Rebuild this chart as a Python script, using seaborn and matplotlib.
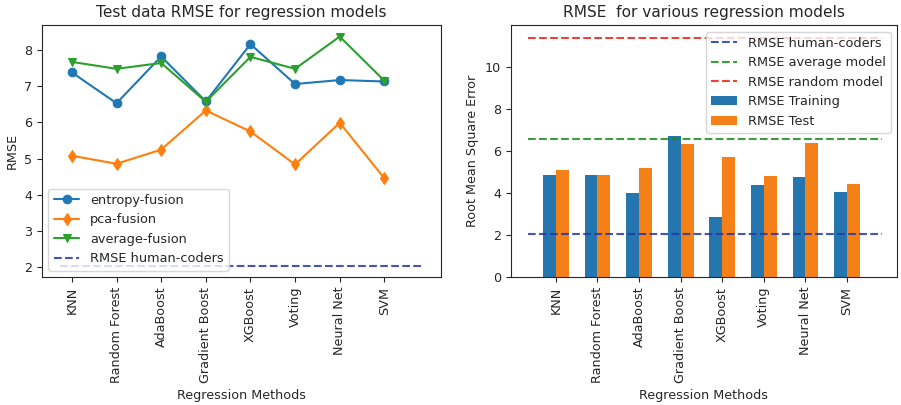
import matplotlib
matplotlib.use("Agg")
import matplotlib.pyplot as plt
import seaborn as sns
import pandas as pd

methods = ["KNN", "Random Forest", "AdaBoost", "Gradient Boost",
           "XGBoost", "Voting", "Neural Net", "SVM"]

# test RMSE per fusion strategy
entropy_fusion = [7.38, 6.53, 7.82, 6.58, 8.16, 7.06, 7.17, 7.13]
pca_fusion = [5.08, 4.86, 5.25, 6.33, 5.75, 4.84, 5.99, 4.46]
average_fusion = [7.67, 7.48, 7.64, 6.57, 7.81, 7.48, 8.37, 7.15]

# training / test RMSE per model
rmse_training = [4.86, 4.86, 4.01, 6.71, 2.83, 4.35, 4.77, 4.06]
rmse_test = [5.10, 4.86, 5.20, 6.33, 5.72, 4.82, 6.38, 4.44]

# reference baselines
rmse_human = 2.05
rmse_average_model = 6.56
rmse_random_model = 11.38

sns.set_style("ticks")
plt.rcParams["font.family"] = ["DejaVu Sans"]
plt.rcParams["font.size"] = 9.2
plt.rcParams["xtick.labelsize"] = 9.2
plt.rcParams["ytick.labelsize"] = 9.2
plt.rcParams["axes.labelsize"] = 9.2
plt.rcParams["axes.titlesize"] = 11.1
plt.rcParams["legend.fontsize"] = 9.3

fig = plt.figure(figsize=(9.01, 4.05), dpi=100)
ax1 = fig.add_axes([0.0466, 0.316, 0.4429, 0.622])
ax2 = fig.add_axes([0.567, 0.316, 0.4286, 0.622])

tab = sns.color_palette("tab10")
human_color = "#2536a8"

# left: line chart of fusion strategies
series = [("entropy-fusion", entropy_fusion, "o", tab[0]),
          ("pca-fusion", pca_fusion, "d", tab[1]),
          ("average-fusion", average_fusion, "v", tab[2])]
for name, vals, mk, col in series:
    sns.lineplot(x=methods, y=vals, marker=mk, color=col, label=name,
                 markersize=6.2, markeredgecolor=col, linewidth=1.5,
                 sort=False, ax=ax1)
ax1.hlines(rmse_human, -0.26, 7.85, colors=human_color, linestyles="--",
           linewidth=1.5, alpha=0.85, label="RMSE human-coders")
ax1.set_xlim(-0.67, 8.27)
ax1.set_title("Test data RMSE for regression models")
ax1.set_ylabel("RMSE")
ax1.set_xlabel("Regression Methods")
ax1.tick_params(axis="x", labelrotation=90)
ax1.legend(loc="lower left")

# right: grouped bars with baselines
df = pd.DataFrame({
    "method": methods * 2,
    "rmse": rmse_training + rmse_test,
    "kind": ["RMSE Training"] * len(methods) + ["RMSE Test"] * len(methods),
})
sns.barplot(data=df, x="method", y="rmse", hue="kind",
            palette=[tab[0], tab[1]], width=0.62, saturation=0.92,
            linewidth=0, edgecolor="none", ax=ax2)
ax2.hlines(rmse_human, -0.66, 7.84, colors=human_color, linestyles="--",
           linewidth=1.5, alpha=0.85, label="RMSE human-coders")
ax2.hlines(rmse_average_model, -0.66, 7.84, colors="#1a8c1a", linestyles="--",
           linewidth=1.5, alpha=0.85, label="RMSE average model")
ax2.hlines(rmse_random_model, -0.66, 7.84, colors="#e62214", linestyles="--",
           linewidth=1.5, alpha=0.85, label="RMSE random model")
ax2.set_xlim(-1.08, 8.2)
ax2.set_ylim(0, 11.97)
ax2.set_title("RMSE  for various regression models")
ax2.set_ylabel("Root Mean Square Error")
ax2.set_xlabel("Regression Methods")
ax2.tick_params(axis="x", labelrotation=90)
handles, labels = ax2.get_legend_handles_labels()
order = ["RMSE human-coders", "RMSE average model", "RMSE random model",
         "RMSE Training", "RMSE Test"]
hmap = dict(zip(labels, handles))
ax2.legend([hmap[k] for k in order], order, loc="upper right")

for ax in (ax1, ax2):
    for s in ax.spines.values():
        s.set_visible(True)

fig.savefig("out.png", dpi=100)
